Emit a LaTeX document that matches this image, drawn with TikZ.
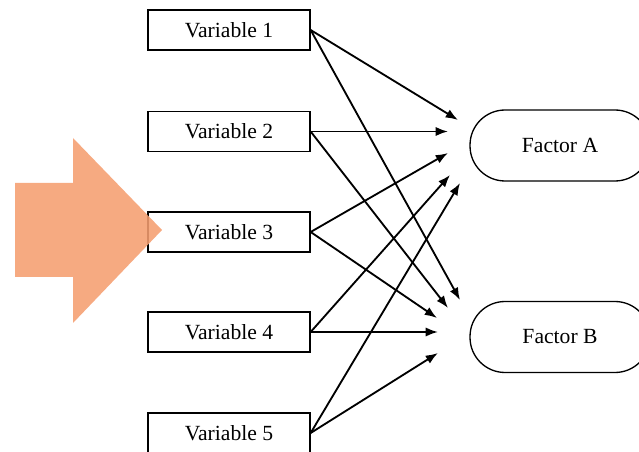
\documentclass[tikz,border=0pt]{standalone}
\usepackage{fontspec}
\setmainfont{Liberation Serif}
\usetikzlibrary{positioning, arrows, arrows.meta, calc, shapes}
\definecolor{arroworange}{RGB}{245,158,112}

\begin{document}
\begin{tikzpicture}[x=0.02cm, y=-0.02cm,
		varbox/.style={draw, line width=0.75pt, minimum width=3.24cm, minimum height=0.8cm, font=\fontsize{12.3}{14}\selectfont},
		factorbox/.style={draw, line width=0.75pt, rounded corners=0.7cm, minimum width=3.6cm, minimum height=1.42cm, font=\fontsize{12.3}{14}\selectfont},
		link/.style={-{Latex[length=7pt, width=5.2pt]}, line width=1.05pt}]
		
		%Frame
		\useasboundingbox (0,0) rectangle (639,452);
		
		%Variables
		\node (varOne) at(229,30) [varbox]{Variable 1};
		\node (varTwo) at(229,131.5) [varbox]{Variable 2};
		\node (varThree) at(229,232) [varbox]{Variable 3};
		\node (varFour) at(229,332) [varbox]{Variable 4};
		\node (varFive) at(229,433) [varbox]{Variable 5};
		
		%Factors
		\node (factorA) at(560,145.5) [factorbox]{Factor A};
		\node (factorB) at(560,337) [factorbox]{Factor B};
		
		%Arrow ends near Factor A
		\coordinate (aOne) at (458,120);
		\coordinate (aTwo) at (448,131.5);
		\coordinate (aThree) at (448,153);
		\coordinate (aFour) at (450,175);
		\coordinate (aFive) at (460,183);
		
		%Arrow ends near Factor B
		\coordinate (bOne) at (460,300);
		\coordinate (bTwo) at (448,308);
		\coordinate (bThree) at (437,318);
		\coordinate (bFour) at (438,332);
		\coordinate (bFive) at (438,353);
		
		%Links
		\draw[link] (varOne.east) -- (aOne);
		\draw[link] (varOne.east) -- (bOne);
		\draw[link] (varTwo.east) -- (aTwo);
		\draw[link] (varTwo.east) -- (bTwo);
		\draw[link] (varThree.east) -- (aThree);
		\draw[link] (varThree.east) -- (bThree);
		\draw[link] (varFour.east) -- (aFour);
		\draw[link] (varFour.east) -- (bFour);
		\draw[link] (varFive.east) -- (aFive);
		\draw[link] (varFive.east) -- (bFive);
		
		%Big arrow
		\fill[arroworange, fill opacity=0.88] (15,183) -- (73,183) -- (73,138) -- (162,230)
		-- (73,323) -- (73,277) -- (15,277) -- cycle;
		
		\end{tikzpicture}
\end{document}
